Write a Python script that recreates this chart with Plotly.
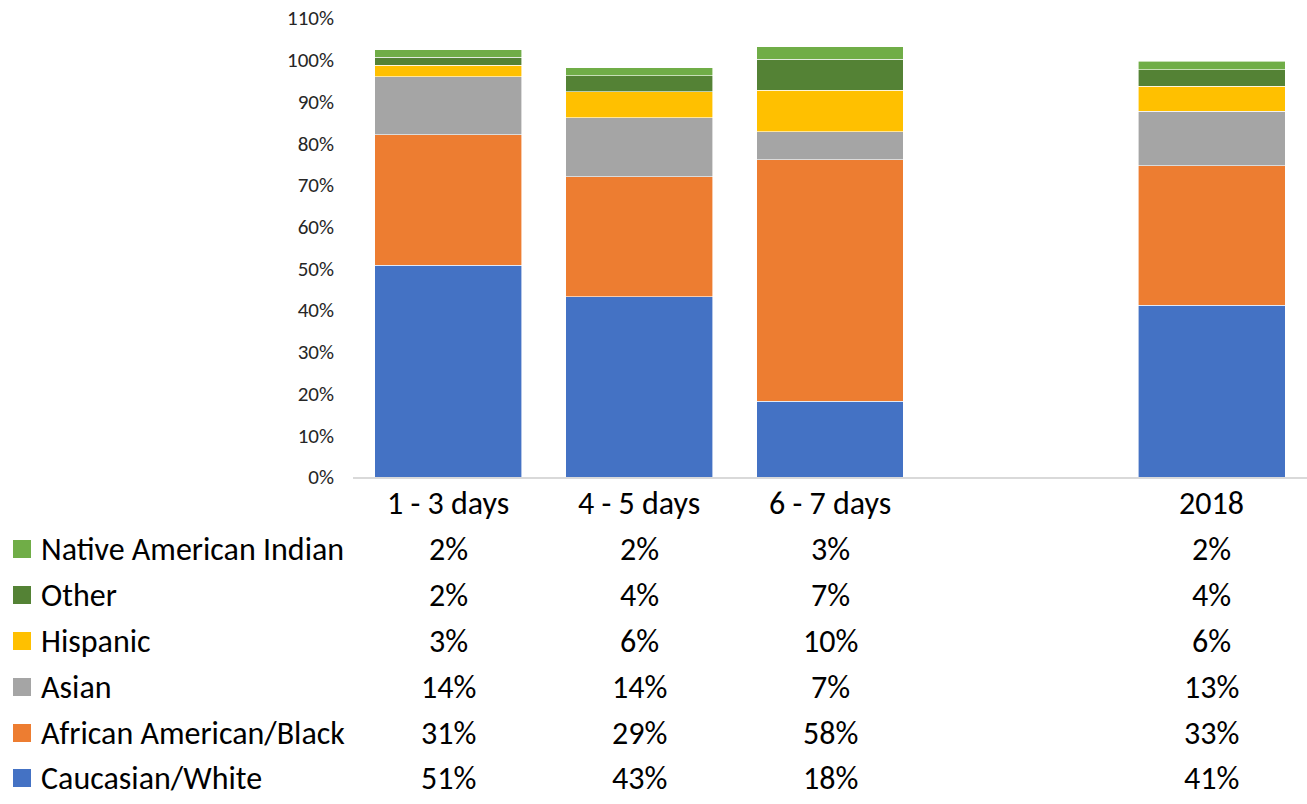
import plotly.graph_objects as go

# ---- data ----
categories = ["1 - 3 days", "4 - 5 days", "6 - 7 days", "2018"]
axis_slots = ["1 - 3 days", "4 - 5 days", "6 - 7 days", " ", "2018"]
y_ticks = list(range(0, 111, 10))

caucasian = [50.8, 43.2, 18.2, 41.2]
african = [31.2, 28.7, 57.8, 33.4]
asian = [13.9, 14.2, 6.8, 13.0]
hispanic = [2.8, 6.2, 9.9, 6.0]
other = [1.9, 3.9, 7.4, 4.0]
native = [1.8, 1.9, 3.0, 2.0]

series = [
    ("Caucasian/White", caucasian, "#4472C4"),
    ("African American/Black", african, "#ED7D31"),
    ("Asian", asian, "#A5A5A5"),
    ("Hispanic", hispanic, "#FFC000"),
    ("Other", other, "#548235"),
    ("Native American Indian", native, "#70AD47"),
]

FONT = "Carlito, Calibri, Lato, sans-serif"
TSIZE = 32
W, H = 1307, 804
L, R, T, B = 353, 0, 18, 327
plot_w = W - L - R
plot_h = H - T - B

fig = go.Figure()
for name, vals, col in series:
    fig.add_trace(go.Bar(
        x=categories, y=vals, name=name,
        marker=dict(color=col, line=dict(color="rgba(255,255,255,0.8)", width=0.75)),
        showlegend=False, hoverinfo="x+y+name",
    ))

def py_to_paper(py):
    return (H - B - py) / plot_h

shapes = []
annotations = []

# category labels under the axis
for c in categories:
    annotations.append(dict(xref="x", yref="paper", x=axis_slots.index(c), y=py_to_paper(503),
                            text=c, showarrow=False, xanchor="center", yanchor="middle",
                            font=dict(family=FONT, size=TSIZE, color="#000000")))

# data table below the chart (rows top-to-bottom: last series first)
row_px = [549, 595, 641, 687, 733, 778]
for (name, vals, col), py in zip(reversed(series), row_px):
    yp = py_to_paper(py)
    shapes.append(dict(type="rect", xref="paper", yref="paper",
                       x0=(13 - L) / plot_w, x1=(31 - L) / plot_w,
                       y0=yp - 9 / plot_h, y1=yp + 9 / plot_h,
                       fillcolor=col, line=dict(width=0)))
    annotations.append(dict(xref="paper", yref="paper", x=(39 - L) / plot_w, y=yp,
                            text=name, showarrow=False, xanchor="left", yanchor="middle",
                            font=dict(family=FONT, size=TSIZE, color="#000000")))
    for c, v in zip(categories, vals):
        annotations.append(dict(xref="x", yref="paper", x=axis_slots.index(c), y=yp,
                                text=f"{round(v)}%", showarrow=False,
                                xanchor="center", yanchor="middle",
                                font=dict(family=FONT, size=TSIZE, color="#000000")))

fig.update_layout(
    width=W, height=H,
    margin=dict(l=L, r=R, t=T, b=B, pad=0, autoexpand=False),
    barmode="stack", bargap=0.23,
    plot_bgcolor="white", paper_bgcolor="white",
    font=dict(family=FONT, color="#000000"),
    shapes=shapes, annotations=annotations,
    xaxis=dict(type="category", categoryorder="array", categoryarray=axis_slots,
               range=[-0.5, 4.5], showticklabels=False, automargin=False,
               showline=True, linecolor="#D9D9D9", linewidth=1.5,
               showgrid=False, ticks=""),
    yaxis=dict(range=[0, 110], tickvals=y_ticks, ticktext=[f"{v}%" for v in y_ticks],
               showgrid=False, zeroline=False, showline=False, ticks="",
               automargin=False,
               ticklabelstandoff=18, ticklabeloverflow="allow",
               tickfont=dict(family=FONT, size=21, color="#262626")),
)

fig.write_html("out.html", config={"displayModeBar": False},
               post_script="document.body.style.margin='0';document.body.style.overflow='hidden';")
